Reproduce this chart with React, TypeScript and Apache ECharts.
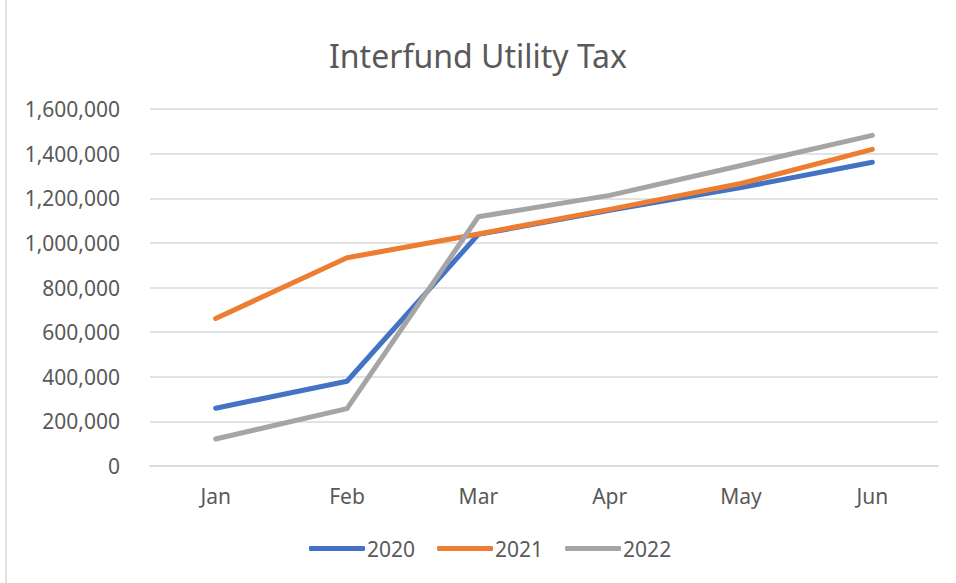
import React, { useEffect, useRef } from "react";
import * as echarts from "echarts";

const title = "Interfund Utility Tax";
const months = ["Jan", "Feb", "Mar", "Apr", "May", "Jun"];
const seriesNames = ["2020", "2021", "2022"];
const values2020 = [259000, 380000, 1038000, 1146000, 1248000, 1361000];
const values2021 = [661000, 933000, 1040000, 1150000, 1266000, 1419000];
const values2022 = [121000, 257000, 1117000, 1213000, 1347000, 1482000];
const colors = ["#4472C4", "#ED7D31", "#A5A5A5"];

export default function App() {
  const ref = useRef<HTMLDivElement>(null);
  useEffect(() => {
    if (!ref.current) return;
    const chart = echarts.init(ref.current, undefined, { renderer: "svg" });
    const font = "'Noto Sans', 'Open Sans', sans-serif";
    const data = [values2020, values2021, values2022];
    chart.setOption({
      animation: false,
      backgroundColor: "#ffffff",
      textStyle: { fontFamily: font },
      title: {
        text: title,
        left: "center",
        top: 34,
        textStyle: { fontFamily: font, fontSize: 32, fontWeight: "normal", color: "#595959" },
      },
      legend: {
        bottom: 19,
        left: 304,
        itemWidth: 56,
        itemHeight: 5,
        itemGap: 22,
        icon: "roundRect",
        textStyle: { fontFamily: font, fontSize: 21, color: "#595959", padding: [0, 0, 0, -3] },
        data: seriesNames,
      },
      grid: { left: 150, right: 18, top: 109, bottom: 117, containLabel: false },
      xAxis: {
        type: "category",
        data: months,
        boundaryGap: true,
        axisLine: { lineStyle: { color: "#d9d9d9", width: 1.5 } },
        axisTick: { show: false },
        axisLabel: { fontFamily: font, fontSize: 21, color: "#595959", margin: 19 },
      },
      yAxis: {
        type: "value",
        min: 0,
        max: 1600000,
        interval: 200000,
        axisLine: { show: false },
        axisTick: { show: false },
        splitLine: { lineStyle: { color: "#d9d9d9", width: 1.5 } },
        axisLabel: {
          fontFamily: font,
          fontSize: 21,
          color: "#595959",
          margin: 30,
          formatter: (v: number) => v.toLocaleString("en-US"),
        },
      },
      series: seriesNames.map((name, i) => ({
        name,
        type: "line",
        data: data[i],
        symbol: "none",
        color: colors[i],
        lineStyle: { width: 5, color: colors[i], cap: "round", join: "round" },
      })),
      graphic: [
        {
          type: "rect",
          shape: { x: 6, y: -2, width: 960, height: 600 },
          style: { fill: "none", stroke: "#d9d9d9", lineWidth: 1.5 },
          silent: true,
        },
      ],
    });
    return () => chart.dispose();
  }, []);
  return (
    <div
      ref={ref}
      style={{ position: "absolute", left: 0, top: 0, width: 956, height: 583 }}
    />
  );
}
